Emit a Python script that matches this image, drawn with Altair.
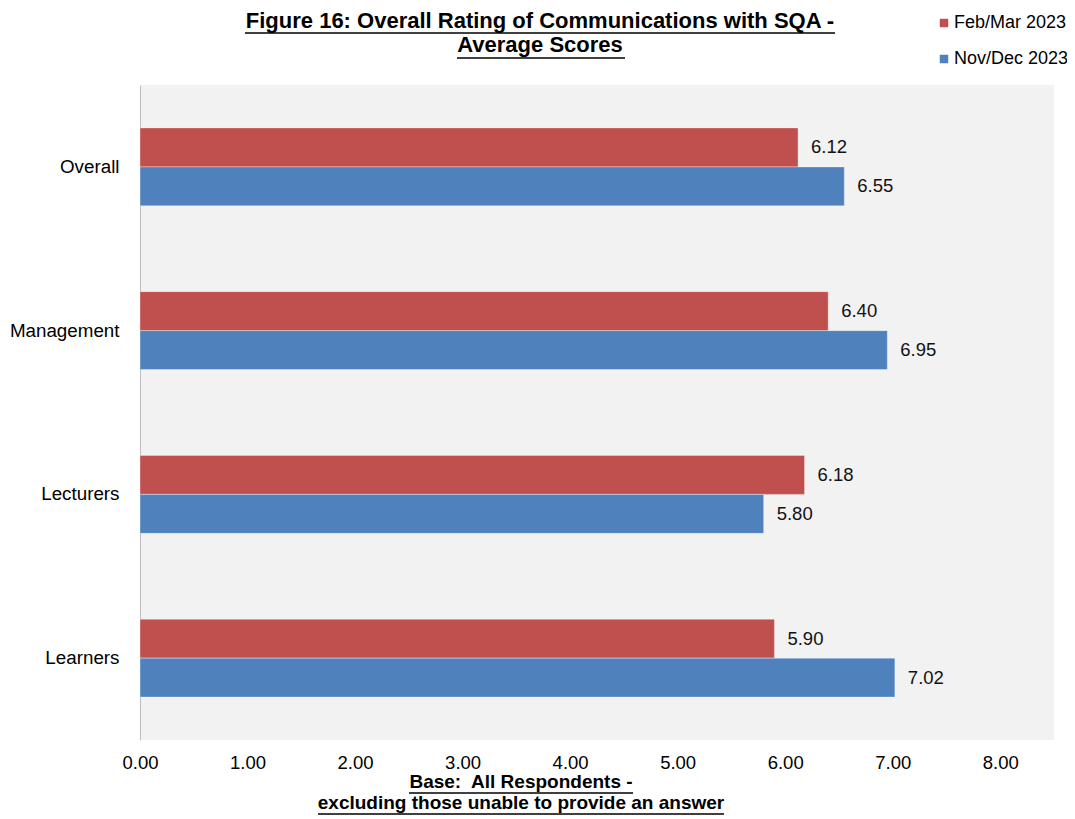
import altair as alt
import pandas as pd

categories = ["Overall", "Management", "Lecturers", "Learners"]
periods = ["Feb/Mar 2023", "Nov/Dec 2023"]
feb_mar = [6.12, 6.40, 6.18, 5.90]
nov_dec = [6.55, 6.95, 5.80, 7.02]
x_ticks = [0, 1, 2, 3, 4, 5, 6, 7, 8]
title_lines = ["Figure 16: Overall Rating of Communications with SQA -", "Average Scores"]
note_lines = ["Base:\u00a0 All Respondents -", "excluding those unable to provide an answer"]
colors = ["#C0504D", "#4F81BD"]

rows = []
for c, a, b in zip(categories, feb_mar, nov_dec):
    rows.append({"Category": c, "Period": periods[0], "Score": a})
    rows.append({"Category": c, "Period": periods[1], "Score": b})
df = pd.DataFrame(rows)

FONT = "Liberation Sans, Arial, sans-serif"

base = alt.Chart(df).encode(
    y=alt.Y(
        "Category:N",
        sort=categories,
        title=None,
        scale=alt.Scale(paddingInner=0.524, paddingOuter=0.262),
        axis=alt.Axis(
            ticks=False, domainColor="#BFBFBF", domainWidth=1, labelPadding=21,
            labelFont=FONT, labelFontSize=18.8, labelColor="#000000", grid=False,
        ),
    ),
    yOffset=alt.YOffset("Period:N", sort=periods),
)

bars = base.mark_bar(stroke="#ffffff", strokeOpacity=0.35, strokeWidth=1).encode(
    x=alt.X(
        "Score:Q",
        scale=alt.Scale(domain=[0, 8.5], nice=False),
        title=None,
        axis=alt.Axis(
            values=x_ticks, format=".2f", grid=False, domain=False, ticks=False,
            labelPadding=13, labelFlush=False, labelFont=FONT, labelFontSize=18.5,
            labelColor="#000000",
        ),
    ),
    color=alt.Color(
        "Period:N",
        scale=alt.Scale(domain=periods, range=colors),
        title=None,
        legend=alt.Legend(
            orient="none", legendX=795, legendY=-71, symbolType="square",
            symbolSize=72, symbolStrokeWidth=0, labelFont=FONT, labelFontSize=18,
            labelColor="#000000", rowPadding=18, labelOffset=1,
        ),
    ),
)

labels = base.mark_text(
    align="left", baseline="middle", dx=13, fontSize=18.5, font=FONT, color="#111111"
).encode(
    x=alt.X("Score:Q"),
    text=alt.Text("Score:Q", format=".2f"),
)

tdf = pd.DataFrame({"line": title_lines, "ypos": [-64, -40]})
title_txt = alt.Chart(tdf).mark_text(
    align="center", baseline="middle", fontSize=22, fontWeight="bold", font=FONT, color="#000000"
).encode(x=alt.value(400), y=alt.Y("ypos:Q", scale=None), text="line:N")

ndf = pd.DataFrame({"line": note_lines, "ypos": [697, 718]})
note_txt = alt.Chart(ndf).mark_text(
    align="center", baseline="middle", fontSize=19, fontWeight="bold", font=FONT, color="#000000"
).encode(x=alt.value(381), y=alt.Y("ypos:Q", scale=None), text="line:N")

udf = pd.DataFrame({
    "x1": [105, 317, 269, 178],
    "x2": [695, 485, 493, 584],
    "yy": [-52, -27, 708, 729],
})
underlines = alt.Chart(udf).mark_rule(color="#000000", strokeWidth=1.5).encode(
    x=alt.X("x1:Q", scale=None), x2="x2:Q", y=alt.Y("yy:Q", scale=None)
)

chart = alt.layer(bars, labels, title_txt, note_txt, underlines).properties(
    width=914, height=655,
    autosize="none",
    padding={"left": 132, "top": 77, "right": 13, "bottom": 79},
).configure_view(fill="#F2F2F2", stroke=None)

chart.save("out.html", embed_options={"renderer": "svg", "actions": False})
